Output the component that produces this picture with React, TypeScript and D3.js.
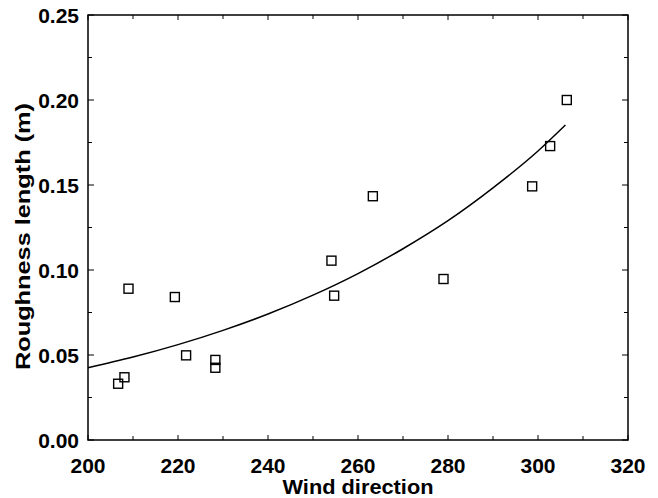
import React from "react";
import * as d3 from "d3";

const windDir = [206.7, 208.1, 209.0, 219.3, 221.8, 228.3, 228.3, 254.1, 254.7, 263.3, 279.0, 298.7, 302.7, 306.4];
const roughness = [0.0331, 0.0369, 0.089, 0.0841, 0.0498, 0.0471, 0.0425, 0.1055, 0.0849, 0.1434, 0.0947, 0.1492, 0.1729, 0.2];

const fitX = [200, 210, 220, 230, 240, 250, 260, 270, 280, 290, 300, 306.1];
const fitY = [0.0425, 0.0488, 0.0561, 0.0645, 0.0741, 0.0852, 0.0979, 0.1125, 0.129, 0.1483, 0.1700, 0.1853];

const xTicks = [200, 220, 240, 260, 280, 300, 320];
const yTicks = [0.0, 0.05, 0.1, 0.15, 0.2, 0.25];

export default function App() {
  const W = 658, H = 498;
  const left = 88, right = 628, top = 15, bottom = 440;
  const x = d3.scaleLinear().domain([200, 320]).range([left, right]);
  const y = d3.scaleLinear().domain([0, 0.25]).range([bottom, top]);
  const line = d3.line<number>().x((_, i) => x(fitX[i])).y((d) => y(d)).curve(d3.curveMonotoneX);
  const xMinor = d3.range(200, 321, 10);
  const yMinor = d3.range(0, 0.2501, 0.025);
  const font = "'Liberation Sans', Arial, Helvetica, sans-serif";
  const ms = 9;
  return (
    <svg width={W} height={H} style={{ position: "absolute", left: 0, top: 0 }}>
      <rect x={0} y={0} width={W} height={H} fill="#fff" />
      <g stroke="#000" strokeWidth={1}>
        {xMinor.map((v) => {
          const major = Math.round(v) % 20 === 0;
          const len = major ? 5 : 4;
          return (
            <g key={"xt" + v}>
              <line x1={x(v)} x2={x(v)} y1={bottom} y2={bottom - len} />
              <line x1={x(v)} x2={x(v)} y1={top} y2={top + len} />
            </g>
          );
        })}
        {yMinor.map((v, i) => {
          const len = i % 2 === 0 ? 6 : 4;
          return (
            <g key={"yt" + i}>
              <line x1={left} x2={left + len} y1={y(v)} y2={y(v)} />
              <line x1={right} x2={right - len} y1={y(v)} y2={y(v)} />
            </g>
          );
        })}
      </g>
      <rect x={left} y={top} width={right - left} height={bottom - top} fill="none" stroke="#000" strokeWidth={1.5} />
      <path d={line(fitY) || ""} fill="none" stroke="#000" strokeWidth={1.5} />
      {windDir.map((d, i) => (
        <rect key={"p" + i} x={x(d) - ms / 2} y={y(roughness[i]) - ms / 2} width={ms} height={ms} fill="none" stroke="#000" strokeWidth={1.4} />
      ))}
      <g fontFamily={font} fontWeight="bold" fontSize={21} fill="#000">
        {yTicks.map((v) => (
          <text key={"yl" + v} x={79} y={y(v)} dy="0.36em" textAnchor="end">{v.toFixed(2)}</text>
        ))}
        {xTicks.map((v) => (
          <text key={"xl" + v} x={x(v)} y={472.5} textAnchor="middle">{v}</text>
        ))}
        <text x={358} y={494} textAnchor="middle" fontSize={21} textLength={151} lengthAdjust="spacingAndGlyphs">Wind direction</text>
        <text transform={`translate(30,236.5) rotate(-90)`} textAnchor="middle" fontSize={20} textLength={267} lengthAdjust="spacingAndGlyphs">Roughness length (m)</text>
      </g>
    </svg>
  );
}
